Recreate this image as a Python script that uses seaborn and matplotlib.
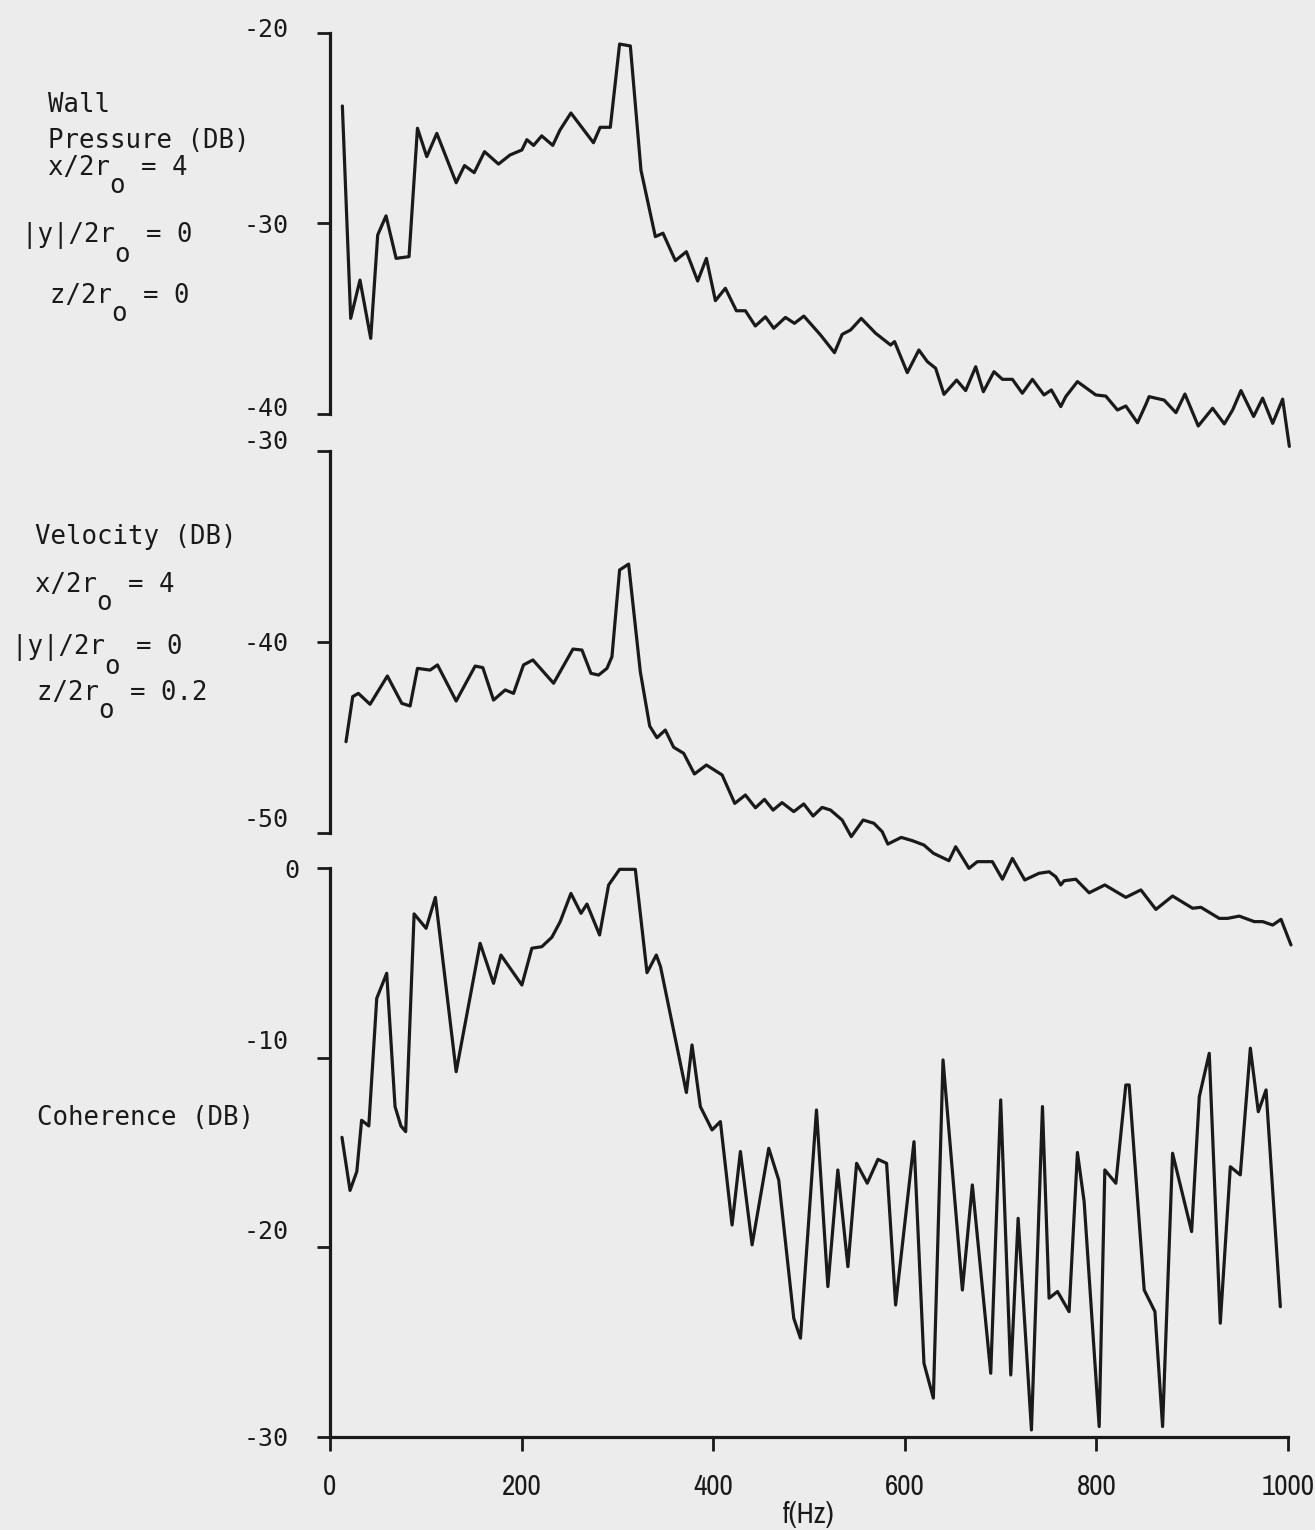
import matplotlib
matplotlib.use("Agg")
import matplotlib.pyplot as plt
from matplotlib import font_manager, transforms
import numpy as np
import pandas as pd
import seaborn as sns

# ---------------- data ----------------
wall_f = [12.9, 21.6, 31.3, 42.5, 49.8, 58.5, 69, 82.5, 91.3, 101, 111.5, 131.7, 140.4,
          150.5, 161.3, 175.9, 188, 200.3, 205.5, 212.5, 221, 232.5, 240, 251.5, 275, 282,
          292.6, 302.3, 313.5, 324.6, 339.6, 347.6, 360.5, 372, 383.8, 392.9, 402.3, 412.7,
          424.2, 433.6, 444, 454.5, 463.2, 475.4, 484.8, 494.6, 512, 526.6, 534.6, 543.4,
          554.5, 569.5, 585.2, 589.3, 602.6, 614.7, 623.5, 632.2, 640.9, 654.1, 663.5, 674,
          682, 693.1, 701.9, 712.3, 722.7, 733.2, 745.3, 753, 762.8, 768, 780.2, 799.4,
          809.8, 822, 830.7, 842.9, 851.6, 855, 870.7, 883, 892.4, 906.3, 921.3, 933.5,
          942.2, 950.9, 964.1, 973.5, 984, 994.4, 1001.4]
wall_db = [-23.83, -34.98, -32.97, -36.03, -30.6, -29.6, -31.83, -31.74, -25.0, -26.49,
           -25.27, -27.86, -26.96, -27.33, -26.23, -26.88, -26.4, -26.14, -25.6, -25.9,
           -25.4, -25.9, -25.1, -24.2, -25.76, -24.95, -24.95, -20.58, -20.68, -27.2,
           -30.69, -30.51, -31.95, -31.48, -33.02, -31.83, -34.05, -33.4, -34.58, -34.58,
           -35.38, -34.9, -35.5, -34.93, -35.24, -34.86, -35.85, -36.78, -35.82, -35.59,
           -34.98, -35.76, -36.38, -36.2, -37.83, -36.64, -37.25, -37.6, -38.97, -38.22,
           -38.77, -37.52, -38.83, -37.78, -38.18, -38.18, -38.91, -38.18, -39.0, -38.74,
           -39.61, -39.09, -38.3, -39.0, -39.06, -39.79, -39.58, -40.46, -39.5, -39.09,
           -39.27, -39.93, -38.95, -40.63, -39.7, -40.52, -39.79, -38.77, -40.13, -39.17,
           -40.49, -39.22, -41.7]

vel_f = [16.7, 23.7, 29.6, 41.8, 59.9, 74.9, 83.6, 91.3, 104.5, 112.2, 131.7, 151.5, 159.5,
         170.7, 182.9, 191.6, 202, 211.8, 233.4, 253.6, 263, 272.4, 280.4, 289.1, 294.3,
         302.3, 311.7, 323.9, 333.7, 341.3, 350, 358.7, 369.2, 380.4, 392.9, 409.3, 422.5,
         433.6, 444.1, 453.5, 462.5, 471.9, 484.1, 494.5, 504.3, 513.7, 522.5, 534.6, 544.1,
         556.5, 567.7, 576.4, 582.3, 596.3, 607.8, 620, 629.8, 646.1, 653.1, 667, 675.7,
         691.4, 701.9, 712.3, 725.2, 740.1, 750.6, 757.6, 762.8, 766.3, 778.5, 792.4, 808.8,
         830.7, 846.4, 862.1, 879.5, 900.4, 909.1, 928.2, 937, 949.1, 964.8, 973.6, 984,
         992.7, 1003.1]
vel_db = [-45.22, -42.86, -42.69, -43.26, -41.78, -43.21, -43.35, -41.38, -41.47, -41.2,
          -43.09, -41.26, -41.34, -43.04, -42.51, -42.69, -41.2, -40.94, -42.16, -40.37,
          -40.42, -41.64, -41.73, -41.38, -40.77, -36.23, -35.92, -41.55, -44.4, -45.01,
          -44.61, -45.51, -45.83, -46.91, -46.44, -46.96, -48.45, -48.01, -48.68, -48.24,
          -48.8, -48.41, -48.88, -48.48, -49.11, -48.66, -48.8, -49.32, -50.19, -49.32,
          -49.49, -49.93, -50.58, -50.23, -50.4, -50.63, -51.06, -51.45, -50.72, -51.85,
          -51.5, -51.5, -52.42, -51.33, -52.46, -52.11, -52.03, -52.29, -52.72, -52.5,
          -52.42, -53.13, -52.72, -53.37, -52.98, -54.0, -53.3, -53.94, -53.89, -54.47,
          -54.47, -54.35, -54.64, -54.64, -54.82, -54.52, -55.86]

coh_f = [12.5, 20.9, 28, 33, 40.5, 48.8, 59.2, 67.9, 74, 79, 87.8, 100.3, 110, 131.7, 156.7,
         170.7, 178.4, 200.3, 210.7, 221.1, 231.6, 240.3, 251.5, 262, 268.2, 281.4, 290.8,
         302.3, 318.7, 330.9, 340.6, 345, 372, 377.9, 386.6, 398.8, 407.5, 419.7, 428.4,
         440.6, 458, 468.4, 484.1, 491.1, 507.8, 519.7, 530.1, 540.6, 549.7, 560.8, 572,
         581, 590.4, 609.6, 620, 629.8, 639.9, 660.1, 670.5, 689.7, 700.1, 710.6, 718.3,
         732.2, 743.7, 750.6, 759.4, 771.5, 780.2, 787.2, 802.9, 808.8, 820.3, 830.7, 834.2,
         849.9, 861.1, 869.1, 879.5, 899.4, 907.4, 917.8, 929.3, 939.8, 950.2, 960.7, 969,
         977.1, 992]
coh_db = [-14.2, -17.0, -16.0, -13.3, -13.6, -6.87, -5.55, -12.58, -13.6, -13.9, -2.42,
          -3.18, -1.55, -10.74, -3.97, -6.08, -4.59, -6.17, -4.23, -4.15, -3.65, -2.83,
          -1.34, -2.39, -1.9, -3.53, -0.9, -0.07, -0.07, -5.52, -4.59, -5.2, -11.84, -9.33,
          -12.58, -13.81, -13.37, -18.82, -14.95, -19.87, -14.78, -16.45, -23.74, -24.79,
          -12.76, -22.07, -15.92, -21.02, -15.57, -16.62, -15.36, -15.57, -23.04, -14.43,
          -26.11, -27.95, -10.12, -22.25, -16.71, -26.64, -12.23, -26.73, -18.47, -29.63,
          -12.58, -22.68, -22.33, -23.39, -15.0, -17.59, -29.45, -15.92, -16.62, -11.44,
          -11.44, -22.25, -23.39, -29.45, -15.04, -19.17, -12.06, -9.77, -24.0, -15.75,
          -16.18, -9.5, -12.85, -11.7, -23.13]

x_ticks = [0, 200, 400, 600, 800, 1000]
x_tick_labels = ["0", "200", "400", "600", "800", "1000"]
wall_ticks = [-20, -30, -40]
vel_ticks = [-30, -40, -50]
coh_ticks = [0, -10, -20, -30]

# ---------------- style ----------------
BG = "#ececec"
INK = "#1a1a1a"
sns.set_theme(style="white")
plt.rcParams["font.family"] = ["DejaVu Sans Mono", "DejaVu Sans"]
plt.rcParams["axes.unicode_minus"] = False

names = sorted({f.name for f in font_manager.fontManager.ttflist})
narrow = [n for n in names if ("Narrow" in n or "Condensed" in n)]
if narrow:
    XFONT, XSIZE = [narrow[0], "DejaVu Sans"], 21
else:
    XFONT, XSIZE = ["DejaVu Sans"], 17

W, H = 1315, 1530
fig = plt.figure(figsize=(W / 100, H / 100), dpi=100, facecolor=BG)


def box(x0, x1, ytop, ybot):
    return [x0 / W, 1 - ybot / H, (x1 - x0) / W, (ybot - ytop) / H]


ax1 = fig.add_axes(box(330, 1288, 33, 414))
ax2 = fig.add_axes(box(330, 1288, 451, 833))
ax3 = fig.add_axes(box(330, 1288, 868, 1437))

panels = [
    (ax1, wall_f, wall_db, (-40, -20), wall_ticks, {-20: (0, 5), -30: (0, 0), -40: (0, 7)}),
    (ax2, vel_f, vel_db, (-50, -30), vel_ticks, {-30: (0, 11), -40: (0, 0), -50: (0, 15)}),
    (ax3, coh_f, coh_db, (-30, 0), coh_ticks, {0: (10, 0), -10: (0, 18), -20: (0, 18), -30: (0, 0)}),
]

for ax, fx, dbv, ylim, ticks, offs in panels:
    df = pd.DataFrame({"f": fx, "db": dbv})
    ax.set_facecolor("none")
    sns.lineplot(data=df, x="f", y="db", ax=ax, color=INK, linewidth=2.3,
                 estimator=None, sort=False)
    for ln in ax.lines:
        ln.set_clip_on(False)
    ax.set_xlim(0, 1000)
    ax.set_ylim(*ylim)
    ax.set_xlabel("")
    ax.set_ylabel("")
    ax.set_yticks(ticks, [str(t) for t in ticks])
    ax.tick_params(axis="y", direction="out", length=9.5, width=2.0, color=INK,
                   pad=20, labelsize=18, labelcolor=INK, left=True)
    for sp in ["top", "right"]:
        ax.spines[sp].set_visible(False)
    ax.spines["left"].set_color(INK)
    ax.spines["left"].set_linewidth(2.3)
    for t, lab in zip(ticks, ax.get_yticklabels()):
        dx, dy = offs.get(t, (0, 0))
        lab.set_transform(lab.get_transform() +
                          transforms.ScaledTranslation(dx / 100, dy / 100, fig.dpi_scale_trans))

for ax in (ax1, ax2):
    ax.spines["bottom"].set_visible(False)
    ax.set_xticks([])

ax3.spines["bottom"].set_color(INK)
ax3.spines["bottom"].set_linewidth(2.3)
ax3.set_xticks(x_ticks, x_tick_labels)
ax3.tick_params(axis="x", direction="out", length=10, width=2.0, color=INK, pad=16,
                bottom=True, labelcolor=INK)
for lab in ax3.get_xticklabels():
    lab.set_fontfamily(XFONT)
    lab.set_fontsize(XSIZE)

fig.text(809 / W, 1 - 1515 / H, "f(Hz)", ha="center", va="center", color=INK,
         family=XFONT, fontsize=XSIZE)

# ---------------- left annotations ----------------
FS = 18.5


def T(xp, yp, s):
    fig.text(xp / W, 1 - yp / H, s, ha="left", va="center", fontsize=FS, color=INK,
             family=["DejaVu Sans Mono"])


def TS(xp, yp, s, sub_col):
    # main line plus a lowered full-size "o" subscript, as one text block
    fig.text(xp / W, 1 - (yp + 9) / H, s + "\n" + " " * sub_col + "o", ha="left",
             va="center", fontsize=FS, color=INK, family=["DejaVu Sans Mono"],
             linespacing=0.62)


T(48, 105, "Wall")
T(48, 141, "Pressure (DB)")
TS(48, 168, "x/2r  = 4", 4)
TS(22, 236, "|y|/2r  = 0", 6)
TS(50, 296, "z/2r  = 0", 4)

T(35, 537, "Velocity (DB)")
TS(35, 585, "x/2r  = 4", 4)
TS(12, 648, "|y|/2r  = 0", 6)
TS(37, 693, "z/2r  = 0.2", 4)

T(37, 1118, "Coherence (DB)")

fig.savefig("out.png", dpi=100, facecolor=BG)
